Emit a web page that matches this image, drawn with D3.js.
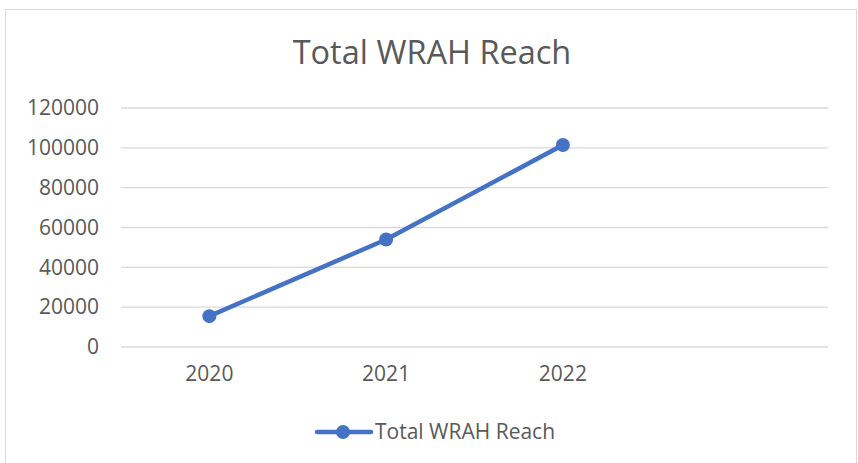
<!DOCTYPE html>
<html>
<head>
<meta charset="utf-8">
<script src="https://cdn.jsdelivr.net/npm/d3@7"></script>
<style>
  body { margin: 0; background: #fff; }
  text { font-family: "Open Sans", sans-serif; fill: #595959; }
</style>
</head>
<body>
<div class="chart"></div>
<script>
// Total WRAH Reach line chart
var years = ["2020", "2021", "2022", ""];
var reach = [15500, 54000, 101400];
var yTicks = [0, 20000, 40000, 60000, 80000, 100000, 120000];
var seriesName = "Total WRAH Reach";

var svgWidth = 858;
var svgHeight = 463;
var margin = {top: 108, right: 30, bottom: 116, left: 121};
var width = 828 - margin.left;
var height = 347 - margin.top;

var svg = d3.select(".chart")
  .append("svg")
  .attr("width", svgWidth)
  .attr("height", svgHeight);

// outer frame
svg.append("rect")
  .attr("x", 5.5).attr("y", 9.5)
  .attr("width", 851).attr("height", 460)
  .attr("fill", "#fff")
  .attr("stroke", "#d9d9d9");

svg.append("text")
  .attr("x", 432).attr("y", 64)
  .attr("text-anchor", "middle")
  .style("font-size", "32.5px")
  .text(seriesName);

var chart = svg.append("g")
  .attr("transform", "translate(" + margin.left + "," + margin.top + ")");

var xScale = d3.scaleBand().domain(years).range([0, width]);
var yScale = d3.scaleLinear().domain([0, 120000]).range([height, 0]);

// gridlines
chart.append("g")
  .selectAll("line")
  .data(yTicks)
  .enter()
  .append("line")
  .attr("x1", 0).attr("x2", width)
  .attr("y1", function(d) { return yScale(d); })
  .attr("y2", function(d) { return yScale(d); })
  .attr("stroke", "#d9d9d9")
  .attr("stroke-width", 1.3);

var leftAxis = d3.axisLeft(yScale).tickValues(yTicks).tickSize(0).tickPadding(22).tickFormat(d3.format("d"));
var gy = chart.append("g").call(leftAxis);
gy.select(".domain").remove();
gy.selectAll("text").style("font-size", "21px").attr("fill", "#595959").style("font-family", null);

var bottomAxis = d3.axisBottom(xScale).tickSize(0).tickPadding(19);
var gx = chart.append("g").attr("transform", "translate(0," + height + ")").call(bottomAxis);
gx.select(".domain").remove();
gx.selectAll("text").style("font-size", "21px").attr("fill", "#595959").style("font-family", null);

var line = d3.line()
  .x(function(d, i) { return xScale(years[i]) + xScale.bandwidth() / 2; })
  .y(function(d) { return yScale(d); });

chart.append("path")
  .datum(reach)
  .attr("d", line)
  .attr("fill", "none")
  .attr("stroke", "#4472c4")
  .attr("stroke-width", 4.5)
  .attr("stroke-linejoin", "round");

chart.selectAll("circle")
  .data(reach)
  .enter()
  .append("circle")
  .attr("cx", function(d, i) { return xScale(years[i]) + xScale.bandwidth() / 2; })
  .attr("cy", function(d) { return yScale(d); })
  .attr("r", 7)
  .attr("fill", "#4472c4");

// legend
var legend = svg.append("g").attr("transform", "translate(317,432)");
legend.append("line")
  .attr("x1", 0).attr("x2", 54)
  .attr("stroke", "#4472c4").attr("stroke-width", 4.5).attr("stroke-linecap", "round");
legend.append("circle").attr("cx", 26).attr("r", 7).attr("fill", "#4472c4");
legend.append("text")
  .attr("x", 58).attr("dy", "0.35em")
  .style("font-size", "21px")
  .text(seriesName);
</script>
</body>
</html>
